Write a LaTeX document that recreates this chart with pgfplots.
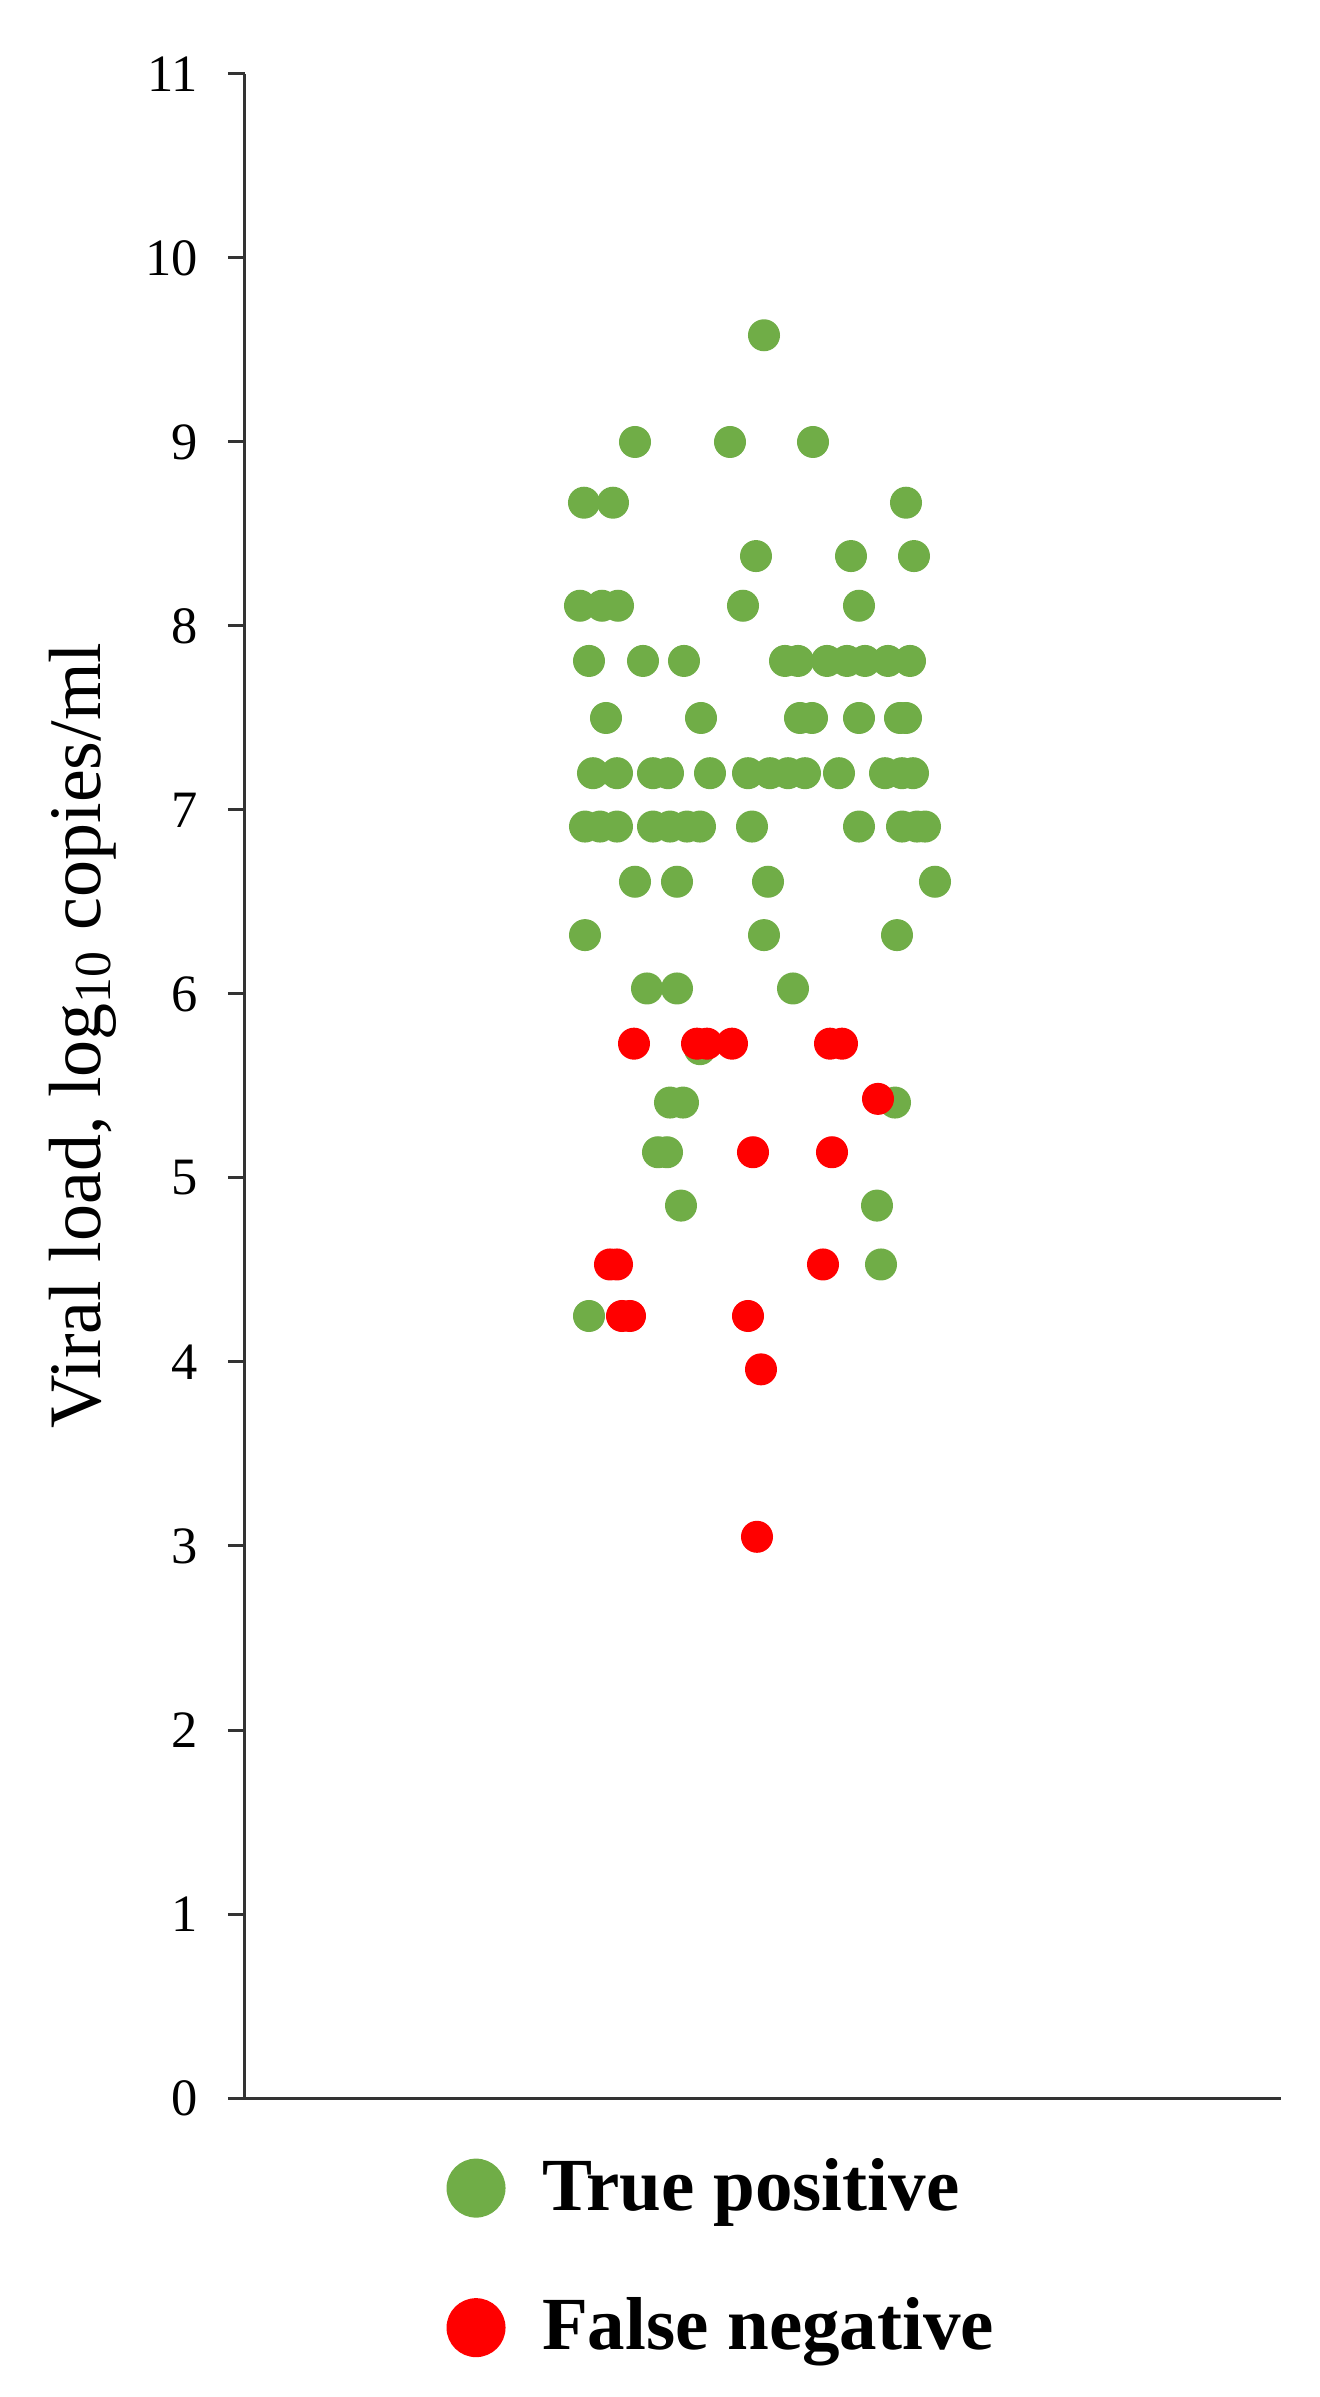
\documentclass[border=0pt]{standalone}
\usepackage{pgfplots}
\pgfplotsset{compat=1.18}
\usepackage{fontspec}
\setmainfont{Liberation Serif}
\definecolor{tpgreen}{HTML}{70AD47}
\definecolor{fnred}{HTML}{FF0000}

% x positions are read as pixel columns of the reference (axis spans 245..1281)
\pgfplotstableread{
x y
764 9.58
635 9.00
730 9.00
813 9.00
584 8.67
613 8.67
906 8.67
756 8.38
851 8.38
914 8.38
580 8.11
602 8.11
618 8.11
743 8.11
859 8.11
589 7.81
643 7.81
684 7.81
785 7.81
798 7.81
827 7.81
847 7.81
865 7.81
888 7.81
910 7.81
606 7.50
701 7.50
800 7.50
812 7.50
859 7.50
900 7.50
906 7.50
593 7.20
617 7.20
653 7.20
668 7.20
710 7.20
748 7.20
770 7.20
788 7.20
805 7.20
839 7.20
885 7.20
902 7.20
913 7.20
585 6.91
600 6.91
617 6.91
653 6.91
670 6.91
687 6.91
700 6.91
752 6.91
859 6.91
902 6.91
917 6.91
925 6.91
635 6.61
677 6.61
768 6.61
935 6.61
585 6.32
764 6.32
897 6.32
647 6.03
677 6.03
793 6.03
700 5.70
670 5.41
683 5.41
895 5.41
658 5.14
667 5.14
681 4.85
877 4.85
881 4.53
589 4.25
}\truepos

\pgfplotstableread{
x y
634 5.73
697 5.73
707 5.73
732 5.73
830 5.73
842 5.73
878 5.43
753 5.14
832 5.14
610 4.53
617 4.53
823 4.53
622 4.25
630 4.25
748 4.25
761 3.96
757 3.05
}\falseneg

\begin{document}
\begin{tikzpicture}
\useasboundingbox (-49pt,-59.8pt) rectangle (215pt,419.6pt);
\begin{axis}[
    at={(0,0)}, anchor=origin,
    scale only axis,
    width=207.2pt, height=404.8pt,
    xmin=245, xmax=1281,
    ymin=0, ymax=11,
    clip=false,
    axis lines=left,
    axis line style={-, line width=0.6pt, black!80},
    xtick=\empty,
    ytick={0,1,...,11},
    tick align=outside,
    major tick length=3.4pt,
    tick style={line width=0.6pt, black!80},
    /pgf/number format/assume math mode=true,
    yticklabel style={font=\fontsize{10.5}{12}\selectfont, inner sep=0pt, xshift=-5.8pt},
    ylabel={Viral load, log\textsubscript{10} copies/ml},
    ylabel style={font=\fontsize{14.8}{17}\selectfont, rotate=0, anchor=center,
        at={(axis description cs:-0.157,0.525)}},
    legend image code/.code={\draw[#1] plot coordinates {(0pt,0pt)};
        \path (-5.5pt,0pt) (11pt,0pt);},
    legend style={at={(axis description cs:0.1955,-0.079)}, anchor=west,
        draw=none, fill=none, inner sep=0pt, outer sep=0pt,
        font=\bfseries\fontsize{15}{17}\selectfont,
        row sep=12pt},
    legend cell align=left,
]
\addplot[only marks, mark=*, mark size=3pt, color=tpgreen, forget plot] table[x=x,y=y] {\truepos};
\addplot[only marks, mark=*, mark size=3pt, color=fnred, forget plot] table[x=x,y=y] {\falseneg};
\addlegendimage{only marks, mark=*, mark size=5.7pt, color=tpgreen}
\addlegendentry{True positive}
\addlegendimage{only marks, mark=*, mark size=5.7pt, color=fnred}
\addlegendentry{False negative}
\end{axis}
\end{tikzpicture}
\end{document}
